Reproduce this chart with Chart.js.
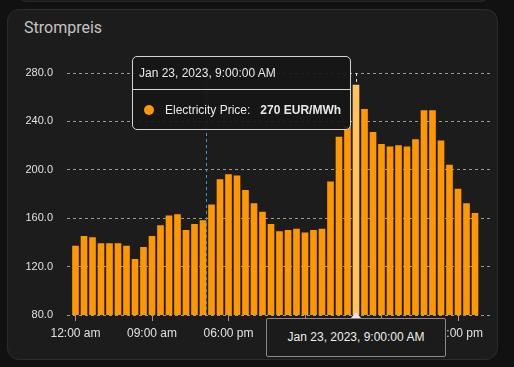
<!DOCTYPE html>
<html><head><meta charset="utf-8">
<script src="https://cdn.jsdelivr.net/npm/chart.js@4/dist/chart.umd.min.js"></script>
<style>
html,body{margin:0;padding:0;background:#111111;width:514px;height:367px;overflow:hidden;position:relative}
#prev{position:absolute;left:15px;top:-12px;width:477px;height:14px;border:1px solid #2a2a2a;border-radius:0 0 12px 12px;background:#1c1c1c;box-sizing:border-box}
#card{position:absolute;left:7px;top:9px;width:491px;height:351px;background:#1c1c1c;border:1px solid #2c2c2c;border-radius:12px;box-sizing:border-box}
#title{position:absolute;left:16px;top:10px;font:16px/16px Roboto,sans-serif;color:#c4c4c4;white-space:nowrap}
canvas{position:absolute;left:0;top:0}
#tip{position:absolute;top:56px;background:rgba(21,21,21,0.93);border:1px solid #d4d4d4;border-radius:5px;font:12px/14px "Liberation Sans",Arial,sans-serif;color:#e8e8e8;white-space:nowrap;box-sizing:border-box}
#tip .t{padding:9px 7px 9px 6px;border-bottom:1px solid #d4d4d4;height:33px;box-sizing:border-box}
#tip .b{padding:12px 9px 12px 11px;height:39px;box-sizing:border-box;display:flex;align-items:center}
#tip .dot{display:inline-block;width:10px;height:10px;border-radius:50%;background:#ff9800;margin-right:11px}
#tip .v{font-weight:bold;margin-left:10px}
#axl{position:absolute;top:318px;height:39px;background:#1b1b1b;border:1px solid #8a8a8a;border-radius:2px;box-sizing:border-box;font:12px/37px "Liberation Sans",Arial,sans-serif;color:#eeeeee;text-align:center;white-space:nowrap}
#tri{position:absolute;top:312px;width:0;height:0;border-left:5px solid transparent;border-right:5px solid transparent;border-bottom:6px solid #e6e6e6}
</style>
</head><body>
<div id="prev"></div>
<div id="card"><div id="title">Strompreis</div></div>
<canvas id="c" width="514" height="367"></canvas>
<div id="tip"><div class="t" id="tipTitle"></div><div class="b"><span class="dot"></span><span id="tipName"></span><span class="v" id="tipVal"></span></div></div>
<div id="tri"></div>
<div id="axl"></div>
<script>
const seriesName = "Electricity Price";
const unit = "EUR/MWh";
const times = [
 "2023-01-22T00:00","2023-01-22T01:00","2023-01-22T02:00","2023-01-22T03:00","2023-01-22T04:00","2023-01-22T05:00",
 "2023-01-22T06:00","2023-01-22T07:00","2023-01-22T08:00","2023-01-22T09:00","2023-01-22T10:00","2023-01-22T11:00",
 "2023-01-22T12:00","2023-01-22T13:00","2023-01-22T14:00","2023-01-22T15:00","2023-01-22T16:00","2023-01-22T17:00",
 "2023-01-22T18:00","2023-01-22T19:00","2023-01-22T20:00","2023-01-22T21:00","2023-01-22T22:00","2023-01-22T23:00",
 "2023-01-23T00:00","2023-01-23T01:00","2023-01-23T02:00","2023-01-23T03:00","2023-01-23T04:00","2023-01-23T05:00",
 "2023-01-23T06:00","2023-01-23T07:00","2023-01-23T08:00","2023-01-23T09:00","2023-01-23T10:00","2023-01-23T11:00",
 "2023-01-23T12:00","2023-01-23T13:00","2023-01-23T14:00","2023-01-23T15:00","2023-01-23T16:00","2023-01-23T17:00",
 "2023-01-23T18:00","2023-01-23T19:00","2023-01-23T20:00","2023-01-23T21:00","2023-01-23T22:00","2023-01-23T23:00"
];
const prices = [
 137,145,144,139,139,139,137,126,136,145,154,162,
 163,150,155,158,171,192,196,195,183,172,165,155,
 149,150,151,148,150,151,190,227,236,270,250,231,
 221,219,220,219,225,249,249,224,204,184,172,164
];
const xTickHours = [0,9,18,27,36,45];
const xTickLabels = ["12:00 am","09:00 am","06:00 pm","03:00 am","12:00 pm","09:00 pm"];
const yTicks = [80,120,160,200,240,280];
const activeIndex = 33;
const cursorHour = 15.35;

const GRID = '#9a9a9a';
const FONT = "'Liberation Sans', Arial, sans-serif";

const pointerPlugin = {
  id:'pointer',
  beforeDatasetsDraw(chart){
    const {ctx, chartArea:a, scales:{x}} = chart;
    ctx.save();
    ctx.lineWidth = 1;
    ctx.setLineDash([3,3]);
    ctx.strokeStyle = '#dcdcdc';
    const px = Math.round(x.getPixelForValue(activeIndex)) + 0.5;
    ctx.beginPath(); ctx.moveTo(px, a.top); ctx.lineTo(px, a.bottom); ctx.stroke();
    ctx.restore();
  },
  afterDatasetsDraw(chart){
    const {ctx, chartArea:a, scales:{x}} = chart;
    ctx.save();
    ctx.lineWidth = 1;
    ctx.setLineDash([3,3]);
    ctx.strokeStyle = '#3f93c8';
    const px = Math.round(x.getPixelForValue(cursorHour)) + 0.5;
    ctx.beginPath(); ctx.moveTo(px, a.top); ctx.lineTo(px, a.bottom); ctx.stroke();
    ctx.restore();
  }
};

const chart = new Chart(document.getElementById('c'), {
  type:'bar',
  data:{
    datasets:[{
      label: seriesName,
      data: prices.map((v,i)=>({x:i, y:v})),
      backgroundColor: c => c.dataIndex === activeIndex ? '#ffc25f' : '#ff9800',
      barThickness: 6,
      borderWidth: 0
    }]
  },
  options:{
    responsive:false,
    animation:false,
    events:[],
    layout:{padding:{top:73, right:22, bottom:0, left:0}},
    plugins:{legend:{display:false}, tooltip:{enabled:false}},
    scales:{
      x:{
        type:'linear', min:-1, max:49, offset:false,
        afterBuildTicks: s => { s.ticks = xTickHours.map(v=>({value:v})); },
        ticks:{
          callback: v => xTickLabels[xTickHours.indexOf(v)],
          font:{family:FONT, size:12}, color:'#e0e0e0', padding:5,
          maxRotation:0, autoSkip:false
        },
        grid:{offset:false, drawOnChartArea:false, drawTicks:true, tickLength:6, color:GRID},
        border:{display:false},
        afterFit: s => { s.height = 52; }
      },
      y:{
        min:80, max:280,
        afterBuildTicks: s => { s.ticks = yTicks.map(v=>({value:v})); },
        ticks:{
          callback: v => Number(v).toFixed(1),
          font:{family:FONT, size:11}, color:'#e0e0e0', padding:14
        },
        grid:{color:GRID, drawTicks:false, lineWidth:1},
        border:{display:false, dash:[3,3]},
        afterFit: s => { s.width = 67; }
      }
    }
  },
  plugins:[pointerPlugin]
});

function fmt(s){
  return new Date(s).toLocaleString('en-US',{month:'short',day:'numeric',year:'numeric',hour:'numeric',minute:'2-digit',second:'2-digit'}).replace(/[\u202f\u00a0]/g,' ');
}
const bar = chart.getDatasetMeta(0).data[activeIndex];
const label = fmt(times[activeIndex]);
document.getElementById('tipTitle').textContent = label;
document.getElementById('tipName').textContent = seriesName + ':';
document.getElementById('tipVal').textContent = prices[activeIndex] + ' ' + unit;
const tip = document.getElementById('tip');
tip.style.left = (bar.x - 5 - tip.offsetWidth) + 'px';
const axl = document.getElementById('axl');
axl.textContent = label;
axl.style.width = '180px';
axl.style.left = (bar.x - 90) + 'px';
const tri = document.getElementById('tri');
tri.style.left = (bar.x - 5) + 'px';
</script>
</body></html>
